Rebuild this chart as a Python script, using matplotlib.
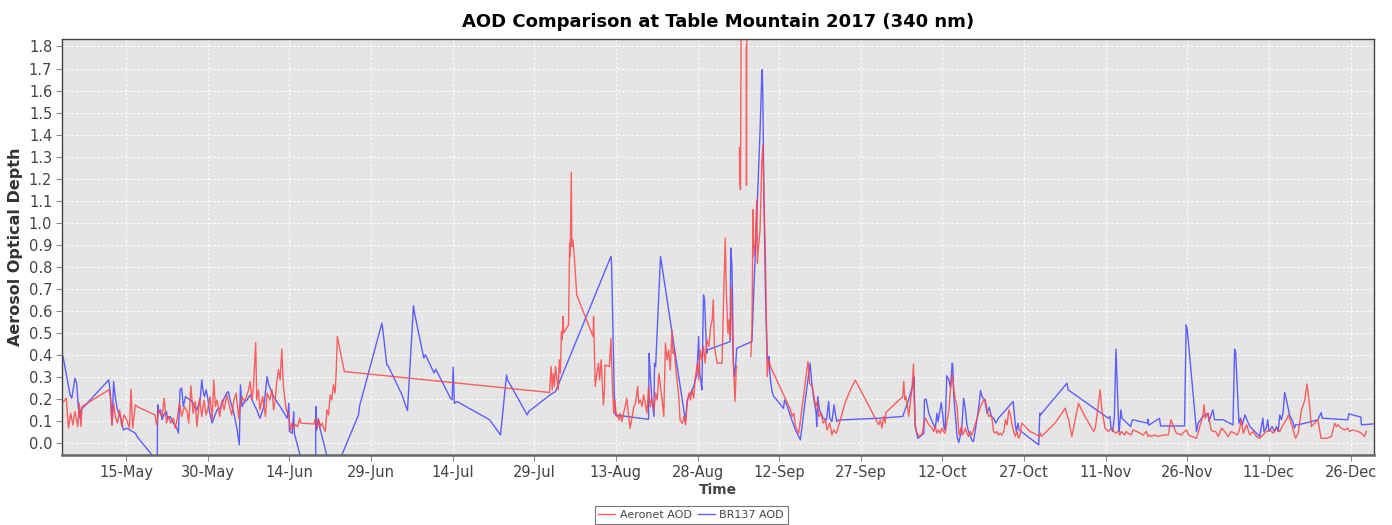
import numpy as np
import matplotlib
matplotlib.use("Agg")
import matplotlib.pyplot as plt
import matplotlib.dates as mdates
from datetime import datetime

# day of year 2017 (fractional) and AOD, nan = gap in the record
aeronet_doy = [
    123.5, 124.0, 124.4, 124.8, 125.2, 125.6, 126.1, 126.4, 126.7, 126.9,
    131.8, 132.1, 132.4, 132.7, 133.0, 133.4, 133.8, 134.2, 134.6, 135.1,
    135.6, 135.9, 136.2, 136.7, 137.0, 140.3, 140.6, 141.0, 141.6, 142.0,
    142.4, 142.8, 143.2, 143.7, 144.0, 144.3, 144.8, 145.2, 145.7, 146.2,
    146.5, 146.9, 147.3, 147.7, 148.0, 148.5, 148.9, 149.3, 149.7, 150.1,
    150.4, 150.8, 151.1, 151.4, 151.7, 152.2, 152.6, 153.0, 153.5, 154.0,
    154.4, 154.8, 155.2, 155.7, 156.0, 156.3, 156.7, 157.1, 157.5, 157.8,
    158.1, 158.4, 158.8, 159.0, 159.3, 159.6, 160.1, 160.6, 160.9, 161.4,
    161.8, 162.1, 162.4, 162.7, 163.0, 163.3, 163.6, 163.9, 164.4, 164.9,
    165.2, 165.5, 165.8, 166.1, 166.5, 166.9, 167.1, 169.5, 169.8, 170.1,
    170.4, 170.7, 171.0, 171.3, 171.6, 171.9, 172.2, 172.5, 172.8, 173.1,
    173.4, 173.6, 173.7, 173.8, 175.1, 212.8,
    213.1, 213.3, 213.5, 213.7, 213.9, 214.2, 214.4, 214.6, 214.8, 215.0,
    215.1, 215.3, 215.4, 216.3, 216.5, 216.6, 216.8, 216.9, 217.1, 217.4,
    217.8, 220.8, 220.9, 221.2, 221.5, 221.8, 222.0, 222.3, 222.4, 222.7,
    222.9, 223.0, 223.8, 224.1, 224.2, 224.4, 224.6, 224.8, 225.1, 225.3,
    225.6, 225.8, 226.1, 226.4, 226.7, 227.0, 227.3, 227.6, 228.0, 228.3,
    228.6, 229.0, 229.2, 229.5, 229.8, 230.1, 230.4, 230.7, 231.0, 231.3,
    231.6, 232.0, 232.3, 232.6, 232.9, 233.2, 233.5, 233.8, 234.1, 234.4,
    234.7, 235.0, 235.3, 235.5, 235.7, 236.1, 236.5, 236.8, 237.2, 237.5,
    237.8, 238.1, 238.4, 238.7, 239.0, 239.3, 239.6, 240.0, 240.2, 240.5,
    240.8, 241.1, 241.4, 241.7, 242.1, 242.4, 242.7, 242.9, 243.1, 243.3,
    243.6, 244.5, 244.8, 245.1, 245.3, 245.6, 245.8, 246.0, 246.2, 246.4,
    246.6, 246.9, 247.1, 247.2,
    247.5, 247.7, 247.75, 247.9, 248.1,
    248.5, 248.95, 249.0, 249.05, 249.2,
    249.5, 249.8, 250.0, 250.2, 250.3, 250.6, 250.9, 251.0, 251.2, 251.5,
    251.8, 252.0, 252.1, 252.5, 252.8, 253.1, 253.4, 257.1, 257.4, 257.7,
    258.0, 258.3, 258.6, 260.3, 260.6, 261.1, 261.7, 262.0, 262.3, 262.7,
    263.1, 263.5, 263.8, 264.3, 264.7, 265.0, 265.5, 265.9, 267.2, 268.1,
    269.0,
    273.3, 273.6, 273.9, 274.2, 274.5, 274.6, 277.7, 277.9, 278.1, 278.3,
    278.6, 278.8, 279.1, 279.4, 279.7, 279.8, 280.0, 280.3, 280.6, 280.9,
    281.3, 281.6, 281.9, 282.5, 283.1, 283.4, 283.7, 284.0, 284.3, 284.6,
    284.9, 285.2, 285.5, 285.8, 286.2, 286.5, 286.8, 287.1, 287.4, 287.7,
    287.9, 288.1, 288.5, 288.7, 289.0, 289.2, 289.5, 289.8, 290.1, 290.4,
    290.7, 291.0, 291.4, 291.7, 292.0, 292.3, 292.6, 292.9, 293.2, 293.5,
    293.8, 294.1, 294.4, 294.7, 295.0, 295.3, 295.6, 295.9, 296.3, 296.6,
    296.9, 297.2, 297.5, 297.8, 298.1, 298.4, 298.7, 299.0, 299.3, 299.6,
    299.9, 300.5, 301.1, 301.8, 302.4, 302.8, 303.0, 303.2, 305.7, 307.6,
    307.9, 308.2, 308.8, 310.0, 311.2, 312.8, 313.1, 314.0, 314.3, 314.9,
    315.5, 316.1, 316.8,
    317.3, 317.6, 317.9, 318.5, 318.8, 319.1, 319.7, 320.0, 320.7, 321.3,
    321.9, 322.5, 322.8, 323.1, 323.4, 324.0, 324.6, 325.6, 326.5, 327.0,
    328.0, 328.9, 329.5, 329.9, 330.2, 330.8, 331.7, 332.3, 332.9, 333.1,
    333.3, 333.8, 334.4, 334.7, 335.2, 335.7, 336.3, 336.9, 337.5, 338.1,
    338.7, 339.2, 339.6, 339.9, 340.3, 340.9, 341.5, 342.1, 342.7, 343.3,
    343.9, 344.5, 345.2, 345.8, 346.4, 347.0, 347.6, 348.2, 348.6, 349.1,
    349.9, 350.4, 351.0, 351.6, 352.0, 352.5, 352.8, 353.4, 354.0, 354.6,
    355.6, 356.5, 357.1, 357.4, 357.7, 358.3, 358.9, 359.5, 359.8, 360.4,
    361.4, 362.0, 362.6, 362.9,
]
aeronet_aod = [
    0.188, 0.203, 0.067, 0.135, 0.082, 0.142, 0.074, 0.180, 0.074, 0.165,
    0.241, 0.210, 0.082, 0.180, 0.120, 0.090, 0.150, 0.074, 0.127, 0.105,
    0.067, 0.244, 0.067, 0.173, 0.165, 0.127, 0.082, 0.150, 0.120, 0.203,
    0.090, 0.120, 0.090, 0.112, 0.067, 0.097, 0.180, 0.120, 0.165, 0.142,
    0.090, 0.259, 0.135, 0.188, 0.074, 0.203, 0.120, 0.195, 0.127, 0.165,
    0.210, 0.105, 0.286, 0.165, 0.195, 0.120, 0.195, 0.150, 0.218, 0.165,
    0.127, 0.195, 0.226, 0.112, 0.180, 0.210, 0.188, 0.210, 0.241, 0.279,
    0.195, 0.256, 0.456, 0.195, 0.241, 0.150, 0.210, 0.120, 0.226, 0.195,
    0.241, 0.150, 0.195, 0.286, 0.332, 0.286, 0.426, 0.256, 0.150, 0.127,
    0.059, 0.090, 0.067, 0.082, 0.074, 0.112, 0.090, 0.086, 0.112, 0.067,
    0.105, 0.074, 0.090, 0.067, 0.052, 0.150, 0.127, 0.218, 0.195, 0.264,
    0.226, 0.324, 0.400, 0.483, 0.324, 0.229,
    0.347, 0.241, 0.316, 0.256, 0.347, 0.286, 0.241, 0.377, 0.316, 0.506,
    0.468, 0.574, 0.498, 0.536, 0.907, 0.847, 1.228, 0.892, 0.922, 0.831,
    0.672, 0.483, 0.574, 0.256, 0.316, 0.362, 0.286, 0.377, 0.316, 0.172,
    0.241, 0.354, 0.347, 0.475, 0.377, 0.241, 0.135, 0.195, 0.120, 0.127,
    0.104, 0.135, 0.097, 0.135, 0.165, 0.203, 0.135, 0.066, 0.120, 0.165,
    0.180, 0.256, 0.180, 0.195, 0.165, 0.218, 0.180, 0.135, 0.256, 0.165,
    0.203, 0.150, 0.226, 0.195, 0.316, 0.256, 0.195, 0.120, 0.453, 0.377,
    0.422, 0.331, 0.513, 0.407, 0.422, 0.316, 0.226, 0.104, 0.089, 0.120,
    0.082, 0.180, 0.226, 0.195, 0.241, 0.203, 0.301, 0.362, 0.286, 0.422,
    0.377, 0.438, 0.362, 0.468, 0.438, 0.528, 0.559, 0.650, 0.438, 0.407,
    0.362, 0.362, 0.665, 0.930, 0.680, 0.498, 0.559, 0.470, 0.710, 0.513,
    0.347, 0.188, 0.332, 0.347,
    np.nan, 1.34, 1.19, 1.15, 2.5,
    np.nan, 1.80, 1.17, 1.80, 2.5,
    np.nan, 0.392, 0.513, 1.059, 0.847, 0.907, 1.104, 0.816, 0.892, 0.968,
    1.271, 1.354, 1.241, 0.816, 0.301, 0.377, 0.347, 0.150, 0.120, 0.135,
    0.074, 0.059, 0.044, 0.370, 0.270, 0.256, 0.165, 0.188, 0.120, 0.135,
    0.090, 0.105, 0.059, 0.090, 0.036, 0.059, 0.044, 0.074, 0.188, 0.241,
    0.285,
    0.082, 0.105, 0.067, 0.120, 0.090, 0.138, 0.210, 0.279, 0.195, 0.210,
    0.165, 0.120, 0.180, 0.241, 0.359, 0.195, 0.082, 0.044, 0.036, 0.029,
    0.044, 0.090, 0.112, 0.082, 0.067, 0.052, 0.074, 0.044, 0.059, 0.044,
    0.067, 0.052, 0.044, 0.090, 0.150, 0.249, 0.309, 0.241, 0.195, 0.165,
    0.082, 0.036, 0.074, 0.036, 0.052, 0.067, 0.044, 0.029, 0.052, 0.036,
    0.059, 0.082, 0.112, 0.142, 0.165, 0.180, 0.195, 0.195, 0.150, 0.120,
    0.127, 0.112, 0.052, 0.044, 0.052, 0.036, 0.044, 0.036, 0.052, 0.105,
    0.082, 0.150, 0.127, 0.082, 0.052, 0.029, 0.052, 0.021, 0.036, 0.090,
    0.082, 0.067, 0.052, 0.044, 0.036, 0.029, 0.044, 0.029, 0.090, 0.158,
    0.127, 0.105, 0.029, 0.180, 0.120, 0.052, 0.067, 0.241, 0.150, 0.067,
    0.052, 0.067, 0.044,
    0.052, 0.036, 0.052, 0.036, 0.052, 0.044, 0.036, 0.059, 0.052, 0.044,
    0.036, 0.052, 0.029, 0.036, 0.029, 0.036, 0.029, 0.036, 0.036, 0.105,
    0.044, 0.036, 0.052, 0.059, 0.036, 0.029, 0.021, 0.074, 0.127, 0.173,
    0.112, 0.135, 0.059, 0.052, 0.052, 0.029, 0.067, 0.052, 0.029, 0.052,
    0.044, 0.036, 0.059, 0.105, 0.044, 0.082, 0.036, 0.052, 0.029, 0.021,
    0.036, 0.052, 0.059, 0.044, 0.067, 0.052, 0.082, 0.105, 0.127, 0.090,
    0.021, 0.044, 0.150, 0.195, 0.268, 0.165, 0.074, 0.090, 0.105, 0.021,
    0.021, 0.029, 0.090, 0.074, 0.082, 0.067, 0.059, 0.067, 0.052, 0.059,
    0.052, 0.044, 0.029, 0.052,
]

br137_doy = [
    123.4, 124.2, 124.7, 125.0, 125.3, 125.6, 125.9, 126.2, 126.5, 126.7,
    131.8, 132.1, 132.4, 132.7, 133.0, 133.4, 133.9, 134.5, 135.1, 136.7,
    137.0, 140.7, 140.8, 141.0, 141.3, 141.6, 141.9, 142.4, 142.6, 143.1,
    143.7, 144.3, 144.6, 144.9, 145.2, 145.5, 145.9, 147.1, 148.0, 148.6,
    148.9, 149.1, 149.4, 149.7, 150.0, 150.3, 150.8, 151.1, 151.7, 152.3,
    153.0, 153.5, 153.8, 154.1, 154.8, 155.4, 155.8, 156.0, 156.3, 156.6,
    157.2, 157.8, 158.4, 159.0, 159.6, 160.3, 160.9, 161.2, 162.1, 163.3,
    164.6, 164.9, 165.0, 165.5, 165.8, 165.9, 169.8, 169.85, 170.0, 170.3,
    170.6, 172.9, 177.7, 177.9, 182.0, 182.2, 182.9, 183.2, 185.7, 185.9,
    186.3, 186.7, 187.8, 188.0, 189.7, 190.0, 191.6, 191.9, 194.6, 194.9,
    195.1, 195.3, 195.8, 201.8, 203.8, 204.9, 205.1, 208.7, 209.0, 212.9,
    213.9, 224.1, 224.2, 224.7, 224.9, 231.0, 231.1, 231.3, 231.6, 232.0,
    232.1, 232.3, 233.2, 237.8, 238.1, 238.7, 239.3, 239.9, 240.2, 240.4,
    240.6, 240.8, 241.1, 241.3, 241.5, 241.7, 241.8, 246.0, 246.1, 246.3,
    246.4, 246.6, 246.8, 247.0, 247.2, 250.0, 250.3, 250.9, 251.5, 251.8,
    251.9, 252.0, 252.2, 252.5, 252.8, 253.0, 253.1, 253.4, 253.7, 254.0,
    254.3, 255.8, 256.0, 256.4, 257.1, 258.0, 258.9, 259.8, 260.7, 261.0,
    261.3, 261.8, 261.9, 262.1, 262.4, 262.7, 263.1, 263.7, 264.1, 264.3,
    264.7, 265.1, 265.3, 265.6, 265.9,
    273.3, 277.7, 278.7, 279.4, 279.7, 279.8, 280.0, 280.2, 280.5, 280.9,
    281.6, 281.7, 282.0, 282.5, 283.1, 283.7, 284.0, 284.2, 284.4, 284.8,
    285.1, 285.3, 285.5, 285.8, 286.2, 286.5, 286.8, 286.9, 287.1, 287.5,
    287.7, 288.0, 288.5, 288.7, 288.9, 289.2, 289.5, 289.8, 290.4, 290.7,
    291.2, 291.7, 292.0, 292.3, 292.8, 293.2, 293.6, 294.0, 294.4, 294.8,
    295.3, 298.0, 298.1, 298.4, 298.6, 298.9, 299.1, 302.7, 302.9, 303.0,
    307.9, 308.1, 315.5, 315.8, 316.0, 316.3, 316.6, 316.9, 317.1, 317.4,
    317.5,
    317.8, 318.0, 319.6, 319.9, 322.7, 322.8, 322.9, 324.9, 325.1, 329.5,
    329.8, 330.0, 331.7, 332.0, 332.9, 333.8, 334.0, 334.7, 334.9, 335.0,
    336.6, 338.4, 338.7, 338.9, 339.5, 339.8, 340.1, 340.6, 341.5, 342.4,
    343.3, 343.9, 344.1, 344.5, 344.8, 345.0, 345.6, 346.0, 346.4, 346.7,
    347.0, 347.3, 347.6, 347.9, 348.1, 348.8, 349.4, 349.7, 349.9, 350.4,
    354.0, 354.6, 354.8, 359.5, 359.7, 361.9, 362.0, 364.1,
]
br137_aod = [
    0.392, 0.286, 0.218, 0.203, 0.249, 0.294, 0.271, 0.165, 0.112, 0.150,
    0.286, 0.226, 0.082, 0.279, 0.210, 0.150, 0.120, 0.059, 0.067, 0.044,
    0.029, -0.084, 0.173, 0.135, 0.150, 0.105, 0.127, 0.142, 0.112, 0.120,
    0.090, 0.067, 0.044, 0.241, 0.249, 0.165, 0.210, 0.188, 0.150, 0.195,
    0.286, 0.241, 0.210, 0.241, 0.203, 0.142, 0.090, 0.112, 0.150, 0.158,
    0.203, 0.226, 0.233, 0.195, 0.135, 0.059, -0.009, 0.264, 0.165, 0.180,
    0.195, 0.218, 0.180, 0.150, 0.112, 0.165, 0.301, 0.264, 0.210, 0.165,
    0.112, 0.180, 0.052, 0.044, 0.142, 0.044, -0.320, 0.165, 0.059, 0.110,
    0.068, -0.158, 0.127, 0.168, 0.544, 0.506, 0.355, 0.347, 0.218, 0.203,
    0.173, 0.147, 0.623, 0.589, 0.385, 0.400, 0.317, 0.335, 0.203, 0.196,
    0.344, 0.180, 0.188, 0.105, 0.036, 0.309, 0.286, 0.127, 0.143, 0.218,
    0.233, 0.847, 0.816, 0.225, 0.127, 0.107, 0.407, 0.316, 0.203, 0.120,
    0.362, 0.347, 0.847, 0.097, 0.195, 0.225, 0.256, 0.316, 0.483, 0.316,
    0.286, 0.241, 0.672, 0.650, 0.513, 0.407, 0.422, 0.460, 0.885, 0.816,
    0.710, 0.362, 0.301, 0.347, 0.430, 0.460, 0.665, 1.029, 1.422, 1.665,
    1.695, 1.574, 1.119, 0.665, 0.400, 0.362, 0.392, 0.286, 0.233, 0.210,
    0.203, 0.157, 0.195, 0.173, 0.120, 0.059, 0.014, 0.195, 0.362, 0.271,
    0.210, 0.135, 0.074, 0.210, 0.150, 0.135, 0.112, 0.104, 0.188, 0.112,
    0.097, 0.173, 0.135, 0.097, 0.104,
    0.112, 0.120, 0.188, 0.249, 0.271, 0.299, 0.074, 0.052, 0.021, 0.029,
    0.044, 0.195, 0.199, 0.135, 0.097, 0.067, 0.135, 0.097, 0.127, 0.183,
    0.120, 0.067, 0.059, 0.305, 0.286, 0.249, 0.362, 0.355, 0.210, 0.090,
    0.029, 0.002, 0.052, 0.120, 0.203, 0.158, 0.082, 0.052, 0.014, 0.006,
    0.082, 0.165, 0.238, 0.210, 0.195, 0.135, 0.162, 0.120, 0.112, 0.090,
    0.112, 0.188, 0.165, 0.082, 0.052, 0.090, 0.059, -0.009, 0.135, 0.127,
    0.271, 0.241, 0.112, 0.120, 0.067, 0.052, 0.120, 0.426, 0.286, 0.074,
    0.052,
    0.150, 0.112, 0.074, 0.105, 0.090, 0.108, 0.080, 0.112, 0.077, 0.077,
    0.536, 0.514, 0.052, 0.090, 0.120, 0.135, 0.097, 0.150, 0.127, 0.105,
    0.105, 0.082, 0.426, 0.408, 0.090, 0.112, 0.082, 0.127, 0.074, 0.052,
    0.029, 0.112, 0.052, 0.067, 0.105, 0.052, 0.074, 0.052, 0.074, 0.052,
    0.127, 0.105, 0.135, 0.229, 0.210, 0.127, 0.097, 0.067, 0.082, 0.082,
    0.105, 0.138, 0.112, 0.105, 0.132, 0.117, 0.082, 0.086,
]

tick_dates = ["2017-05-15", "2017-05-30", "2017-06-14", "2017-06-29",
              "2017-07-14", "2017-07-29", "2017-08-13", "2017-08-28",
              "2017-09-12", "2017-09-27", "2017-10-12", "2017-10-27",
              "2017-11-11", "2017-11-26", "2017-12-11", "2017-12-26"]
y_ticks = [0.0, 0.1, 0.2, 0.3, 0.4, 0.5, 0.6, 0.7, 0.8, 0.9,
           1.0, 1.1, 1.2, 1.3, 1.4, 1.5, 1.6, 1.7, 1.8]


def to_num(doy):
    # day of year -> matplotlib date number
    start = mdates.date2num(datetime(2017, 1, 1))
    return start + np.asarray(doy, dtype=float) - 1.0


plt.rcParams['font.family'] = ['DejaVu Sans']

fig = plt.figure(figsize=(13.92, 5.25), dpi=100)
ax = fig.add_axes([0.0445, 0.1333, 0.9425, 0.7924])
ax.set_facecolor('#e5e5e5')

blue_line, = ax.plot(to_num(br137_doy), br137_aod, color='#4646ff', lw=1.0,
                     alpha=0.85, label='BR137 AOD')
red_line, = ax.plot(to_num(aeronet_doy), aeronet_aod, color='#ff4646', lw=1.0,
                    alpha=0.85, label='Aeronet AOD')

ax.set_xlim(to_num(123.2), to_num(364.3))
ax.set_ylim(-0.055, 1.834)

ax.xaxis.set_major_locator(plt.FixedLocator(
    [mdates.date2num(datetime.strptime(d, "%Y-%m-%d")) for d in tick_dates]))
ax.xaxis.set_major_formatter(mdates.DateFormatter('%d-%b'))
ax.set_yticks(y_ticks)
ax.yaxis.set_major_formatter(plt.FormatStrFormatter('%.1f'))

ax.grid(True, color='white', ls=(0, (2, 2)), lw=0.8)
ax.set_axisbelow(True)
for s in ax.spines.values():
    s.set_color('#444444')
    s.set_linewidth(1.0)
ax.spines['bottom'].set_linewidth(1.8)
ax.spines['bottom'].set_color('#666666')
ax.tick_params(direction='out', length=4, width=0.8, color='#888888',
               labelcolor='#444444', labelsize=10.5, pad=3)

ax.set_title('AOD Comparison at Table Mountain 2017 (340 nm)',
             fontsize=13, fontweight='bold', pad=9)
ax.set_ylabel('Aerosol Optical Depth', fontsize=11.5, fontweight='bold',
              color='#333333', labelpad=4)
ax.set_xlabel('Time', fontsize=10, fontweight='bold', color='#444444',
              labelpad=2)

leg = fig.legend([red_line, blue_line], ['Aeronet AOD', 'BR137 AOD'],
                 loc='lower center', bbox_to_anchor=(0.4965, 0.0), ncol=2,
                 fontsize=8, frameon=True, fancybox=False, handlelength=1.5,
                 handletextpad=0.4, columnspacing=0.6, borderpad=0.35,
                 borderaxespad=0.1)
leg.get_frame().set_edgecolor('#555555')
leg.get_frame().set_linewidth(0.8)
for t in leg.get_texts():
    t.set_color('#444444')

fig.savefig('out.png', dpi=100)
